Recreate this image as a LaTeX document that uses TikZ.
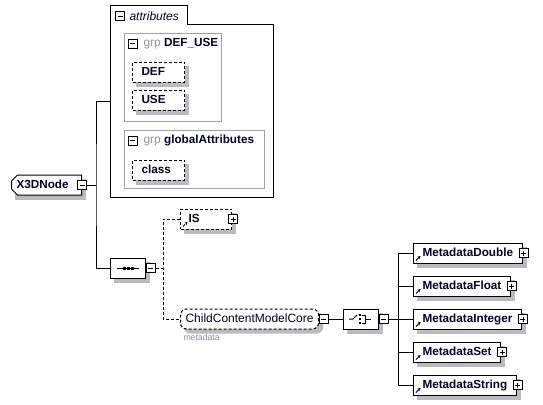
\documentclass[tikz,border=0pt]{standalone}
\usepackage{fontspec}
\setmainfont{Liberation Sans}
\usetikzlibrary{positioning,shapes.misc,arrows.meta,backgrounds}
\definecolor{elemtxt}{RGB}{0,0,46}
\definecolor{grpline}{RGB}{160,160,160}
\definecolor{grptxt}{RGB}{149,149,149}
\definecolor{shadecol}{RGB}{186,187,192}
\definecolor{metatxt}{RGB}{124,140,168}
\tikzset{
  optline/.style={dash pattern=on 2.25pt off 1.5pt},
  boldtxt/.style={font=\fontsize{8.8}{10}\selectfont\bfseries, text=elemtxt},
  boxtext/.style={text height=6.5pt, text depth=1.8pt, inner ysep=0pt, minimum height=15pt},
  minusbox/.style={draw, fill=white, minimum size=6.75pt, inner sep=0pt,
    path picture={\draw[line width=0.6pt] ([shift={(2,0)}]path picture bounding box.west) -- ([shift={(-2,0)}]path picture bounding box.east);}},
  plusbox/.style={draw, fill=white, minimum size=6.75pt, inner sep=0pt,
    path picture={\draw[line width=0.6pt] ([shift={(2,0)}]path picture bounding box.west) -- ([shift={(-2,0)}]path picture bounding box.east)
      ([shift={(0,2)}]path picture bounding box.north) -- ([shift={(0,-2)}]path picture bounding box.south);}},
  rootnode/.style={chamfered rectangle, chamfered rectangle corners={north west,south west},
    chamfered rectangle xsep=2.25pt, chamfered rectangle ysep=2.25pt,
    draw, fill=white, boxtext, boldtxt, anchor=west, inner xsep=1.5pt, text width=45pt, align=left},
  compnode/.style={chamfered rectangle, chamfered rectangle xsep=3.75pt, chamfered rectangle ysep=3.75pt,
    draw, fill=white, anchor=west, inner sep=0pt, minimum width=26.25pt, minimum height=15pt},
  attrframe/.style={anchor=north west, inner sep=0pt, minimum width=121.5pt, minimum height=143.25pt},
  grpbox/.style={draw=grpline, anchor=north west, inner sep=0pt},
  grplbl/.style={boldtxt, anchor=west, inner sep=0pt},
  attrnode/.style={draw, optline, fill=white, boxtext, boldtxt, anchor=west,
    inner xsep=6.75pt, text width=25.5pt, align=left},
  elemnode/.style={draw, fill=white, boxtext, boldtxt, anchor=west, inner xsep=6.75pt,
    path picture={\draw[-{Stealth[length=2.2pt,width=2.4pt]}, line width=0.6pt]
      ([shift={(2.5,-2.5)}]path picture bounding box.south west) -- ++(4.5,-4.5);}},
  grpref/.style={draw, optline, rounded corners=4.5pt, fill=white, boxtext, anchor=west,
    inner xsep=3.75pt, font=\fontsize{9}{10}\selectfont, text=elemtxt},
  metalbl/.style={anchor=north west, inner sep=0pt, font=\fontsize{6.5}{7}\selectfont, text=metatxt}
}
\begin{document}
\begin{tikzpicture}[x=0.75pt, y=-0.75pt, line width=0.75pt]
\useasboundingbox (0,0) rectangle (543,404);
% root element
\node[rootnode] (x3d) at (11,185) {X3DNode};
\node[minusbox] (x3dm) at (x3d.east) {};
% attributes
\node[attrframe] (attrs) at (110,5) {};
\draw (attrs.south west) |- (attrs.north west) -- ++(77,0) -- ++(0,19) -| (attrs.south east) -- cycle;
\node[minusbox] (attrsm) at ([shift={(10,11)}]attrs.north west) {};
\node[anchor=west, inner sep=0pt, font=\fontsize{9}{10}\selectfont\itshape, text=elemtxt] (attrslbl) at ([shift={(19,11)}]attrs.north west) {attributes};
\node[grpbox, minimum width=72.75pt, minimum height=66pt] (defuse) at (124,33) {};
\node[minusbox] (defusem) at ([shift={(8.5,10.5)}]defuse.north west) {};
\node[grplbl] (defuselbl) at ([shift={(19,10.5)}]defuse.north west) {{\mdseries\fontsize{9}{10}\selectfont\color{grptxt}grp}\ DEF\_USE};
\node[attrnode] (def) at (132,72) {DEF};
\node[attrnode] (use) at (132,100) {USE};
\node[grpbox, minimum width=105pt, minimum height=43.5pt] (global) at (124,130) {};
\node[minusbox] (globalm) at ([shift={(8.5,10.5)}]global.north west) {};
\node[grplbl] (globallbl) at ([shift={(19,10.5)}]global.north west) {{\mdseries\fontsize{9}{10}\selectfont\color{grptxt}grp}\ globalAttributes};
\node[attrnode] (class) at (132,170) {class};
% content model
\node[compnode] (seq) at (110,268) {};
\node[minusbox] (seqm) at ([shift={(4.5,0)}]seq.east) {};
\draw ([shift={(-11,0)}]seq.center) -- ([shift={(11,0)}]seq.center);
\foreach \d in {-4,0,4}
  \fill ([shift={(\d-1.5,-1.5)}]seq.center) rectangle ++(3,3);
\node[elemnode, optline, text width=26.25pt, inner xsep=6pt] (is) at (180,219) {IS};
\node[plusbox] (isp) at ([shift={(1,0)}]is.east) {};
\node[grpref] (ccmc) at (180,319) {ChildContentModelCore};
\node[minusbox] (ccmcm) at ([shift={(4.5,0)}]ccmc.east) {};
\node[metalbl] (ccmclbl) at ([shift={(3,4)}]ccmc.south west) {metadata};
\node[compnode] (choice) at (343,319) {};
\node[minusbox] (choicem) at ([shift={(4.5,0)}]choice.east) {};
\draw ([shift={(-12,0)}]choice.center) -- ([shift={(-8,0)}]choice.center) -- ([shift={(-4,-4)}]choice.center);
\foreach \d in {-4,0,4}
  \fill ([shift={(-2.5,\d-1.25)}]choice.center) rectangle ++(2.5,2.5);
\draw ([shift={(1,-4)}]choice.center) -- ([shift={(4,-4)}]choice.center) -- ([shift={(4,4)}]choice.center) -- ([shift={(1,4)}]choice.center)
  ([shift={(4,0)}]choice.center) -- ([shift={(10,0)}]choice.center);
% connectors
\coordinate (trunk) at (96,185);
\draw (x3dm.east) -- (trunk);
\draw (attrs.west) -| (trunk) |- (seq.west);
\coordinate (seqtrunk) at (163,268);
\draw[optline] (seqm.east) -- (seqtrunk);
\draw[optline] (is.west) -| (seqtrunk) |- (ccmc.west);
\draw (ccmcm.east) -- (choice.west);
\coordinate (chtrunk) at (398,319);
\draw (choicem.east) -- (chtrunk);
\foreach \n/\t/\y in {mdouble/MetadataDouble/253, mfloat/MetadataFloat/286, minteger/MetadataInteger/319,
    mset/MetadataSet/352, mstring/MetadataString/385} {
  \node[elemnode] (\n) at (413,\y) {\t};
  \node[plusbox] (\n-p) at ([shift={(1,0)}]\n.east) {};
  \draw (\n.west) -- (\n.west -| chtrunk);
}
\draw (mdouble.west -| chtrunk) -- (mstring.west -| chtrunk);
% shadows
\begin{scope}[on background layer]
  \foreach \n in {x3d,def,use,class,seq,is,choice,mdouble,mfloat,minteger,mset,mstring}
    \fill[shadecol] ([shift={(4,4)}]\n.south -| \n.west) rectangle ([shift={(4,4)}]\n.north -| \n.east);
  \fill[shadecol, rounded corners=4.5pt] ([shift={(4,4)}]ccmc.south west) rectangle ([shift={(4,4)}]ccmc.north east);
\end{scope}
\end{tikzpicture}
\end{document}
